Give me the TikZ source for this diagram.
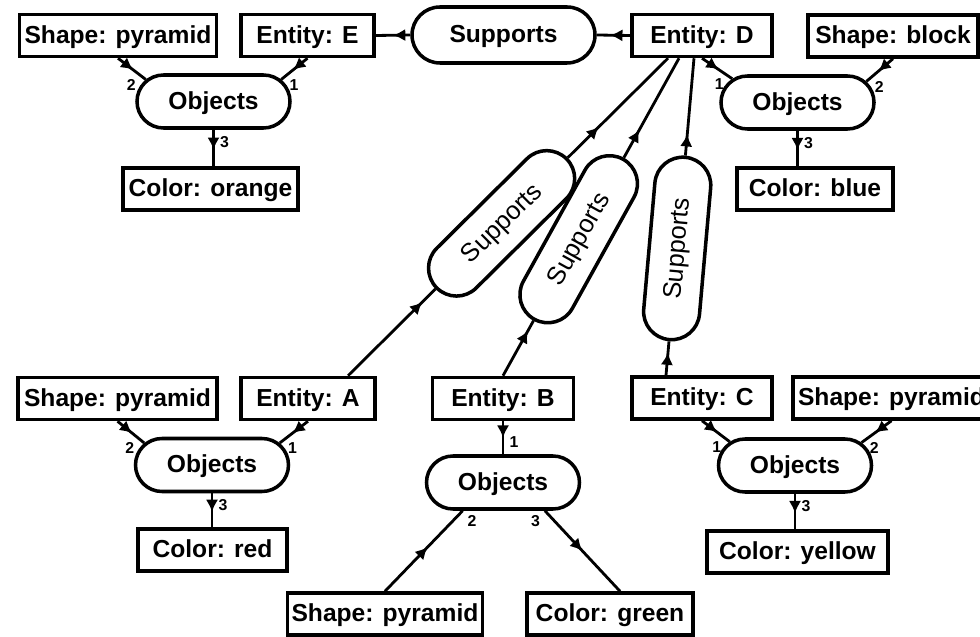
\documentclass[tikz,border=0pt]{standalone}
\usepackage{fontspec}
\setmainfont{Liberation Sans}
\usetikzlibrary{shapes.misc}
\usetikzlibrary{arrows.meta,decorations.markings}

\begin{document}
\begin{tikzpicture}[
  box/.style={draw, line width=2pt, font=\bfseries\fontsize{14}{16}\selectfont, minimum height=0.84cm, inner sep=0pt, text height=10pt, text depth=1pt},
  rel/.style={draw, rounded rectangle, line width=2pt, font=\bfseries\fontsize{14}{16}\selectfont, minimum width=3.06cm, minimum height=1.06cm, inner sep=0pt, text height=10pt, text depth=1pt},
  supp/.style={rel, minimum width=3.66cm, minimum height=1.12cm},
  slant/.style={supp, font=\fontsize{14.5}{16}\selectfont},
  flow/.style={line width=1.6pt, decoration={markings, mark=at position #1 with {\arrow{Latex[length=7pt,width=7pt]}}}, postaction={decorate}},
  flow/.default=0.55,
  lbl/.style={font=\bfseries\fontsize{9}{10}\selectfont, inner sep=1pt}
]
\useasboundingbox (0,0) rectangle (19.6,-12.74);
\node[box, minimum width=3.94cm] (shpE) at (2.36,-0.71) {Shape: pyramid};
\node[box, minimum width=2.66cm] (entE) at (6.15,-0.71) {Entity: E};
\node[supp] (supED) at (10.07,-0.70) {Supports};
\node[box, minimum width=2.80cm] (entD) at (14.04,-0.71) {Entity: D};
\node[box, minimum width=3.40cm] (shpD) at (17.86,-0.72) {Shape: block};
\node[rel] (objE) at (4.27,-2.03) {Objects};
\node[box, minimum width=3.50cm] (colE) at (4.21,-3.78) {Color: orange};
\node[rel] (objD) at (15.95,-2.05) {Objects};
\node[box, minimum width=3.12cm] (colD) at (16.30,-3.78) {Color: blue};

\node[box, minimum width=3.98cm] (shpA) at (2.35,-7.97) {Shape: pyramid};
\node[box, minimum width=2.68cm] (entA) at (6.16,-7.97) {Entity: A};
\node[box, minimum width=2.82cm] (entB) at (10.06,-7.97) {Entity: B};
\node[box, minimum width=2.80cm] (entC) at (14.04,-7.96) {Entity: C};
\node[box, minimum width=3.94cm] (shpC) at (17.83,-7.96) {Shape: pyramid};
\node[rel] (objA) at (4.24,-9.30) {Objects};
\node[box, minimum width=2.98cm] (colA) at (4.25,-11.00) {Color: red};
\node[rel] (objB) at (10.06,-9.65) {Objects};
\node[box, minimum width=3.90cm] (shpB) at (7.70,-12.28) {Shape: pyramid};
\node[box, minimum width=3.32cm] (colB) at (12.20,-12.28) {Color: green};
\node[rel] (objC) at (15.90,-9.31) {Objects};
\node[box, minimum width=3.62cm] (colC) at (15.95,-11.04) {Color: yellow};

\path ([xshift=0.8cm]entA.north) -- ([xshift=-0.68cm]entD.south) node[slant, sloped, pos=0.48] (supAD) {Supports};
\path (entB.north) -- ([xshift=-0.46cm]entD.south) node[slant, sloped, pos=0.43] (supBD) {Supports};
\path ([xshift=-0.72cm]entC.north) -- ([xshift=-0.16cm]entD.south) node[slant, sloped, pos=0.40] (supCD) {Supports};

\draw[flow=0.6] (entD.west) -- (supED.east);
\draw[flow=0.5] (supED.west) -- (entE.east);
\draw[flow=0.85] ([xshift=0.8cm]entA.north) -- (supAD.west);
\draw[flow=0.31] (supAD.east) -- ([xshift=-0.68cm]entD.south);
\draw[flow=0.82] (entB.north) -- (supBD.west);
\draw[flow=0.28] (supBD.east) -- ([xshift=-0.46cm]entD.south);
\draw[flow=0.67] ([xshift=-0.72cm]entC.north) -- (supCD.west);
\draw[flow=0.22] (supCD.east) -- ([xshift=-0.16cm]entD.south);

\draw[flow] (shpE.south) -- (objE.162) node[lbl, left=4pt, yshift=-3pt] {2};
\draw[flow] (entE.south) -- (objE.18) node[lbl, right=3pt, yshift=-3pt] {1};
\draw[flow] (objE.south) -- (objE.south |- colE.north) node[lbl, pos=0.35, right=2pt] {3};

\draw[flow] (entD.south) -- (objD.160) node[lbl, left=3pt, yshift=-3pt] {1};
\draw[flow] (shpD.south) -- (objD.17) node[lbl, right=3pt, yshift=-3pt] {2};
\draw[flow] (objD.south) -- (objD.south |- colD.north) node[lbl, pos=0.35, right=2pt] {3};

\draw[flow] (shpA.south) -- (objA.162) node[lbl, left=4pt, yshift=-3pt] {2};
\draw[flow] (entA.south) -- (objA.18) node[lbl, right=3pt, yshift=-3pt] {1};
\draw[flow] (objA.south) -- (objA.south |- colA.north) node[lbl, pos=0.35, right=2pt] {3};

\draw[flow=0.5] (entB.south) -- (objB.north) node[lbl, above right=2pt] {1};
\draw[flow] (shpB.north) -- (objB.215) node[lbl, below right=1pt] {2};
\draw[flow=0.5] (objB.326) -- ([xshift=0.2cm]colB.north) node[lbl, pos=0, below left=1pt] {3};

\draw[flow] (entC.south) -- (objC.160) node[lbl, left=3pt, yshift=-3pt] {1};
\draw[flow] (shpC.south) -- (objC.19) node[lbl, right=3pt, yshift=-3pt] {2};
\draw[flow] (objC.south) -- (objC.south |- colC.north) node[lbl, pos=0.35, right=2pt] {3};
\end{tikzpicture}
\end{document}
